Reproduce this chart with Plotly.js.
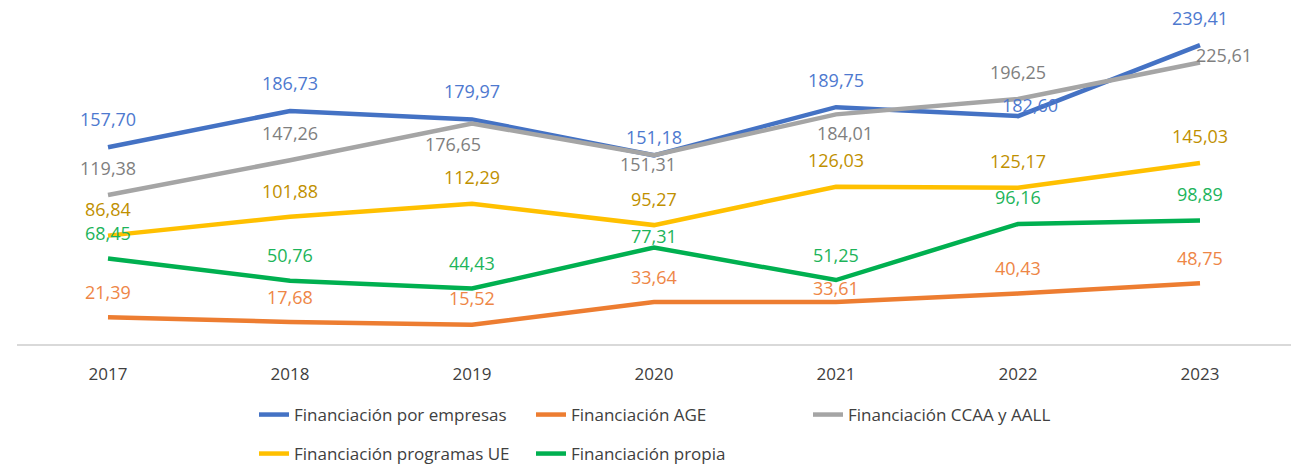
<!DOCTYPE html>
<html><head><meta charset="utf-8">
<script src="https://cdn.plot.ly/plotly-3.0.1.min.js"></script>
<style>html,body{margin:0;padding:0;background:#fff}#chart{width:1294px;height:465px}</style>
</head><body><div id="chart"></div>
<script>
// ---- data ----
const years = ['2017', '2018', '2019', '2020', '2021', '2022', '2023'];
const seriesNames = ['Financiación por empresas', 'Financiación AGE', 'Financiación CCAA y AALL',
                     'Financiación programas UE', 'Financiación propia'];
const empresas = [157.70, 186.73, 179.97, 151.18, 189.75, 182.60, 239.41];
const age      = [21.39, 17.68, 15.52, 33.64, 33.61, 40.43, 48.75];
const ccaa     = [119.38, 147.26, 176.65, 151.31, 184.01, 196.25, 225.61];
const ue       = [86.84, 101.88, 112.29, 95.27, 126.03, 125.17, 145.03];
const propia   = [68.45, 50.76, 44.43, 77.31, 51.25, 96.16, 98.89];

// ---- styles / label placement (px offsets from the point) ----
const lineColors  = ['#4472C4', '#ED7D31', '#A5A5A5', '#FFC000', '#00B050'];
const labelColors = ['#4E79CF', '#EE8646', '#7F7F7F', '#BF9000', '#1DB45A'];
const labelUp = [
  [28, 28, 28, 18, 27, 11, 27],
  [25, 25, 27, 25, 14, 26, 25],
  [27, 27, -20, -9, -19, 27, 7],
  [27, 26, 27, 26, 27, 27, 27],
  [26, 26, 26, 12, 25, 27, 27]
];
const labelRight = [
  [0, 0, 0, 0, 0, 12, 0],
  [0, 0, 0, 0, 0, 0, 0],
  [0, 0, -19, -6, 9, 0, 24],
  [0, 0, 0, 0, 0, 0, 0],
  [0, 0, 0, 0, 0, 0, 0]
];
const legendOf = ['legend', 'legend', 'legend', 'legend2', 'legend2'];

const allValues = [empresas, age, ccaa, ue, propia];
const FONT = '"Open Sans", "Noto Sans", "DejaVu Sans", sans-serif';

const traces = allValues.map((vals, i) => ({
  type: 'scatter', mode: 'lines', x: years, y: vals, name: seriesNames[i],
  line: {color: lineColors[i], width: 4.5},
  legend: legendOf[i], hoverinfo: 'skip'
}));

const annotations = [];
allValues.forEach((vals, i) => {
  vals.forEach((v, j) => {
    annotations.push({
      x: years.indexOf(years[j]), y: v, xref: 'x', yref: 'y',
      text: v.toFixed(2).replace('.', ','),
      showarrow: false, xanchor: 'center', yanchor: 'middle',
      xshift: labelRight[i][j], yshift: labelUp[i][j],
      font: {family: FONT, size: 18, color: labelColors[i]}
    });
  });
});

const legendBase = {
  orientation: 'h', xref: 'container', yref: 'container',
  xanchor: 'left', yanchor: 'middle', x: 254 / 1294,
  entrywidth: 232, entrywidthmode: 'pixels',
  font: {family: FONT, size: 17, color: '#404040'},
  bgcolor: 'rgba(0,0,0,0)', borderwidth: 0, itemwidth: 30
};

const layout = {
  width: 1294, height: 465,
  margin: {l: 17, r: 3, t: 32, b: 121},
  paper_bgcolor: '#ffffff', plot_bgcolor: '#ffffff',
  showlegend: true,
  xaxis: {
    type: 'category', range: [-0.5, 6.5], autorange: false, showgrid: false, zeroline: false,
    showline: true, linecolor: '#D9D9D9', linewidth: 1.5,
    ticks: '', ticklabelstandoff: 14,
    tickfont: {family: FONT, size: 17, color: '#404040'}
  },
  yaxis: {
    range: [0, 250], autorange: false, showgrid: false, zeroline: false, showline: false,
    showticklabels: false, ticks: ''
  },
  legend: Object.assign({}, legendBase, {y: (465 - 415) / 465}),
  legend2: Object.assign({}, legendBase, {y: (465 - 454) / 465}),
  annotations: annotations
};

Plotly.newPlot('chart', traces, layout, {displayModeBar: false, staticPlot: true});
</script></body></html>
